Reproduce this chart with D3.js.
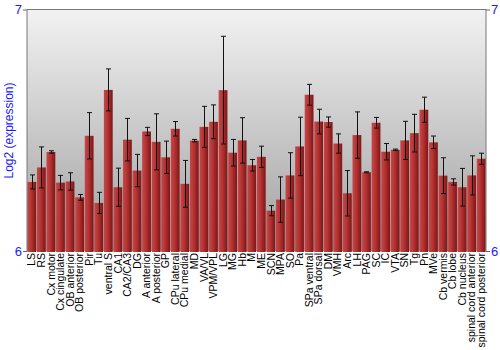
<!DOCTYPE html>
<html>
<head>
<meta charset="utf-8">
<script src="https://cdn.jsdelivr.net/npm/d3@7"></script>
<style>
  body { margin: 0; background: #fff; }
  svg { font-family: "Liberation Sans", Arial, sans-serif; }
</style>
</head>
<body>
<div id="chart"></div>
<script>
const regions = ["LS", "RS", "Cx motor", "Cx cingulate", "OB anterior", "OB posterior", "Pir", "Tu",
  "ventral S", "CA1", "CA2/CA3", "DG", "A anterior", "A posterior", "GP", "CPu lateral", "CPu medial",
  "MD", "VA/VL", "VPM/VPL", "LG", "MG", "Hb", "M", "ME", "SCN", "MPA", "SO", "Pa", "SPa ventral",
  "SPa dorsal", "DM", "VMH", "Arc", "LH", "PAG", "SC", "IC", "VTA", "SN", "Tg", "Pn", "MVe",
  "Cb vermis", "Cb lobe", "Cb nucleus", "spinal cord anterior", "spinal cord posterior"];

const expression = [6.286, 6.346, 6.410, 6.283, 6.288, 6.222, 6.477, 6.199,
  6.667, 6.264, 6.461, 6.333, 6.495, 6.452, 6.388, 6.506, 6.278,
  6.457, 6.514, 6.535, 6.666, 6.407, 6.458, 6.355, 6.390, 6.167, 6.213, 6.313, 6.433, 6.647,
  6.536, 6.534, 6.445, 6.239, 6.480, 6.326, 6.531, 6.411, 6.419, 6.458, 6.488, 6.585, 6.450,
  6.312, 6.286, 6.264, 6.313, 6.382];

const errors = [0.029, 0.085, 0.005, 0.030, 0.036, 0.012, 0.096, 0.044,
  0.087, 0.079, 0.088, 0.067, 0.017, 0.116, 0.067, 0.030, 0.097,
  0.005, 0.085, 0.070, 0.223, 0.055, 0.094, 0.024, 0.044, 0.021, 0.094, 0.094, 0.121, 0.043,
  0.051, 0.021, 0.040, 0.094, 0.096, 0.002, 0.022, 0.034, 0.003, 0.079, 0.078, 0.052, 0.026,
  0.074, 0.013, 0.078, 0.081, 0.023];

const yTicks = [6, 7];

const dataset = regions.map((r, i) => ({ region: r, value: expression[i], err: errors[i] }));

const margin = { top: 9.5, right: 14, bottom: 99, left: 27 },
      width = 500 - margin.left - margin.right,
      height = 350 - margin.top - margin.bottom;

const svg = d3.select("#chart")
  .append("svg")
  .attr("width", 500)
  .attr("height", 350);

const defs = svg.append("defs");
const bg = defs.append("linearGradient").attr("id", "bg").attr("x1", 0).attr("y1", 0).attr("x2", 0).attr("y2", 1);
bg.append("stop").attr("offset", "0%").attr("stop-color", "#f2f2f2");
bg.append("stop").attr("offset", "100%").attr("stop-color", "#a0a0a0");

const barGrad = defs.append("linearGradient").attr("id", "bar").attr("x1", 0).attr("y1", 0).attr("x2", 1).attr("y2", 0);
barGrad.append("stop").attr("offset", "0%").attr("stop-color", "#c44848");
barGrad.append("stop").attr("offset", "40%").attr("stop-color", "#b83434");
barGrad.append("stop").attr("offset", "100%").attr("stop-color", "#7c1616");

const g = svg.append("g")
  .attr("transform", `translate(${margin.left},${margin.top})`);

const x = d3.scaleBand().domain(regions).range([0, width]).paddingInner(0.08).paddingOuter(0.04);
const y = d3.scaleLinear().domain([6, 7]).range([height, 0]);

g.append("rect")
  .attr("width", width)
  .attr("height", height)
  .attr("fill", "url(#bg)");

g.append("g")
  .selectAll("rect")
  .data(dataset)
  .enter().append("rect")
  .attr("x", d => x(d.region))
  .attr("y", d => y(d.value))
  .attr("width", x.bandwidth())
  .attr("height", d => height - y(d.value) + 1)
  .attr("fill", "url(#bar)");

// error bars
const eb = g.append("g").attr("stroke", "#111").attr("stroke-width", 1);
dataset.forEach(d => {
  const cx = Math.round(x(d.region) + x.bandwidth() / 2) + 0.5;
  const y1 = y(d.value + d.err), y2 = y(d.value - d.err);
  eb.append("line").attr("x1", cx).attr("x2", cx).attr("y1", y1).attr("y2", y2);
  eb.append("line").attr("x1", cx - 2.5).attr("x2", cx + 2.5).attr("y1", y1).attr("y2", y1);
  eb.append("line").attr("x1", cx - 2.5).attr("x2", cx + 2.5).attr("y1", y2).attr("y2", y2);
});

// frame
g.append("path")
  .attr("d", `M0,${height}V0H${width}V${height}`)
  .attr("fill", "none")
  .attr("stroke", "#777")
  .attr("stroke-width", 1);

const left = g.append("g").call(d3.axisLeft(y).tickValues(yTicks).tickSize(4).tickFormat(d3.format("d")));
const right = g.append("g").attr("transform", `translate(${width},0)`)
  .call(d3.axisRight(y).tickValues(yTicks).tickSize(4).tickFormat(d3.format("d")));
[left, right].forEach(a => {
  a.select(".domain").remove();
  a.selectAll("line").attr("stroke", "#666");
  a.selectAll("text").attr("fill", "#1a1aff").style("font-size", "13px");
});
left.selectAll("text").attr("x", -5);
right.selectAll("text").attr("x", 5);

const xAxis = g.append("g")
  .attr("transform", `translate(0,${height})`)
  .call(d3.axisBottom(x).tickSize(0));
xAxis.select(".domain").remove();
xAxis.selectAll("text")
  .attr("transform", "rotate(-90)")
  .attr("x", -2)
  .attr("y", 0)
  .attr("dy", "0.35em")
  .style("text-anchor", "end")
  .style("font-size", "10.5px")
  .attr("fill", "#000");

svg.append("text")
  .attr("transform", `translate(13,${margin.top + 121}) rotate(-90)`)
  .attr("text-anchor", "middle")
  .attr("fill", "#1a1aff")
  .style("font-size", "12px")
  .text("Log2 (expression)");
</script>
</body>
</html>
